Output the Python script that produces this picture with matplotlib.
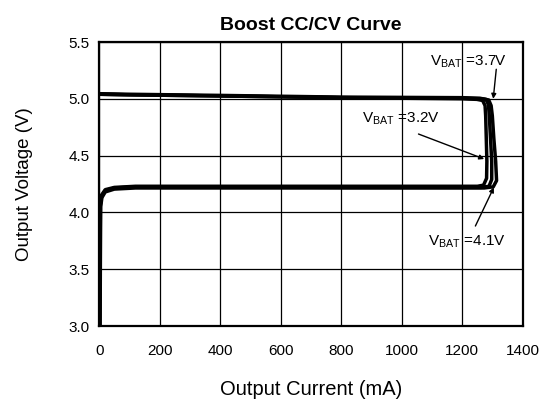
import matplotlib
matplotlib.use('Agg')
import matplotlib.pyplot as plt

plt.rcParams['font.family'] = ['Liberation Sans', 'DejaVu Sans']
plt.rcParams['mathtext.default'] = 'regular'

# CC/CV curves (current in mA, voltage in V)
i_32 = [1, 2, 3, 7, 20, 50, 120, 400, 800, 1200, 1250, 1270, 1280, 1281, 1279, 1277, 1275, 1267, 1248, 1200, 800, 400, 100, 0]
v_32 = [3.0, 3.6, 4.07, 4.15, 4.2, 4.22, 4.23, 4.23, 4.23, 4.23, 4.23, 4.24, 4.3, 4.45, 4.65, 4.85, 4.94, 4.985, 4.995, 5.0, 5.01, 5.025, 5.035, 5.04]

i_37 = [2, 3, 4, 8, 20, 50, 120, 400, 800, 1200, 1262, 1288, 1297, 1297, 1293, 1289, 1286, 1278, 1258, 1200, 800, 400, 100, 0]
v_37 = [3.0, 3.6, 4.06, 4.14, 4.19, 4.215, 4.225, 4.225, 4.22, 4.22, 4.22, 4.23, 4.29, 4.45, 4.65, 4.85, 4.95, 4.995, 5.005, 5.01, 5.015, 5.03, 5.04, 5.045]

i_41 = [3, 4, 5, 9, 20, 50, 120, 400, 800, 1200, 1272, 1302, 1313, 1310, 1304, 1299, 1295, 1287, 1266, 1200, 800, 400, 100, 0]
v_41 = [3.0, 3.6, 4.05, 4.13, 4.18, 4.205, 4.215, 4.215, 4.215, 4.215, 4.215, 4.225, 4.28, 4.45, 4.65, 4.85, 4.94, 4.99, 5.0, 5.005, 5.01, 5.025, 5.035, 5.04]

x_ticks = [0, 200, 400, 600, 800, 1000, 1200, 1400]
y_ticks = [3.0, 3.5, 4.0, 4.5, 5.0, 5.5]

fig = plt.figure(figsize=(5.51, 4.0), dpi=100)
ax = fig.add_axes([0.18, 0.185, 0.769, 0.71])

for xs, ys in [(i_32, v_32), (i_37, v_37), (i_41, v_41)]:
    ax.plot(xs, ys, color='black', lw=2.5, solid_capstyle='round', zorder=3)

ax.set_xlim(0, 1400)
ax.set_ylim(3.0, 5.5)
ax.set_xticks(x_ticks)
ax.set_yticks(y_ticks)
ax.set_yticklabels([f'{v:.1f}' for v in y_ticks])
ax.tick_params(axis='x', length=0, labelsize=11, pad=13)
ax.tick_params(axis='y', length=0, labelsize=11, pad=7)
ax.grid(True, color='black', lw=0.9)
for s in ax.spines.values():
    s.set_linewidth(1.6)

ax.set_title('Boost CC/CV Curve', fontsize=14, fontweight='bold', pad=9)
ax.set_xlabel('Output Current (mA)', fontsize=14.5)
ax.set_ylabel('Output Voltage (V)', fontsize=13.5)
ax.xaxis.set_label_coords(0.5, -0.19)
ax.yaxis.set_label_coords(-0.156, 0.5)

# annotation labels and their arrows
arrow = dict(arrowstyle='-|>', color='black', lw=1.0, mutation_scale=7, shrinkA=0, shrinkB=0)
ax.text(1345, 5.33, 'V$_{BAT}$ =3.7V', fontsize=11, ha='right', va='center')
ax.annotate('', xy=(1302, 5.0), xytext=(1312, 5.26), arrowprops=arrow)
ax.text(1127, 4.82, 'V$_{BAT}$ =3.2V', fontsize=11, ha='right', va='center')
ax.annotate('', xy=(1272, 4.47), xytext=(1055, 4.69), arrowprops=arrow)
ax.text(1345, 3.74, 'V$_{BAT}$ =4.1V', fontsize=11, ha='right', va='center')
ax.annotate('', xy=(1304, 4.22), xytext=(1243, 3.88), arrowprops=arrow)

fig.savefig('out.png', dpi=100)
